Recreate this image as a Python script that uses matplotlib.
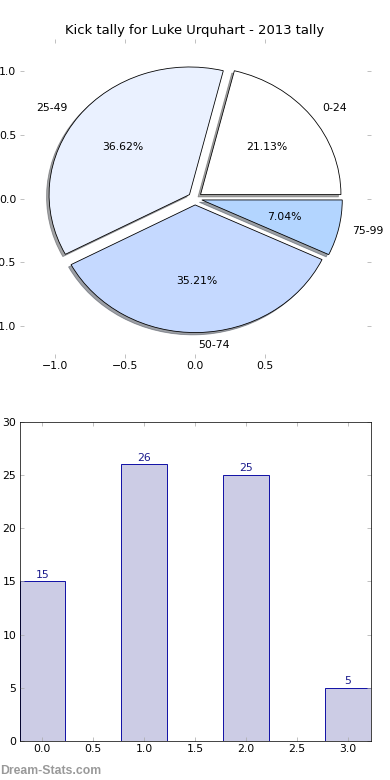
import matplotlib
matplotlib.use("Agg")
import matplotlib.pyplot as plt

labels = ['0-24', '25-49', '50-74', '75-99']
counts = [15, 26, 25, 5]
pie_colors = ['#ffffff', '#eaf1ff', '#c5d9ff', '#b3d5ff']
explode = [0.05, 0.05, 0.05, 0.05]
title = 'Kick tally for Luke Urquhart - 2013 tally'

fig = plt.figure(figsize=(6, 12), dpi=65)
fig.subplots_adjust(left=0.05, right=0.95, top=0.95, bottom=0.05, hspace=0.2)

# pie
ax1 = fig.add_subplot(211)
ax1.pie(counts, labels=labels, colors=pie_colors, explode=explode,
        autopct='%1.2f%%', shadow=True,
        wedgeprops=dict(edgecolor='black', linewidth=0.9),
        textprops=dict(fontsize=12))
ax1.set_aspect('auto')
ax1.set_frame_on(False)
ax1.set_xlim(-1.25, 1.25)
ax1.set_ylim(-1.25, 1.25)
ax1.set_xticks([-1.0, -0.5, 0.0, 0.5])
ax1.set_yticks([-1.0, -0.5, 0.0, 0.5, 1.0])
ax1.tick_params(direction='in', top=True, right=True, length=4,
                color='#aaaaaa', labelsize=12)
ax1.set_title(title, fontsize=14.5)

# bars
ax2 = fig.add_subplot(212)
xs = list(range(len(counts)))
ax2.bar(xs, counts, width=0.45, color='#ccccE5', edgecolor='#0000a0', linewidth=1)
for x, c in zip(xs, counts):
    ax2.text(x, c + 0.15, str(c), ha='center', va='bottom', color='#1a1a8c', fontsize=12)
ax2.set_xlim(-0.225, 3.225)
ax2.set_ylim(0, 30)
ax2.set_xticks([0, 0.5, 1, 1.5, 2, 2.5, 3])
ax2.set_xticklabels(['0.0', '0.5', '1.0', '1.5', '2.0', '2.5', '3.0'])
ax2.set_yticks([0, 5, 10, 15, 20, 25, 30])
ax2.tick_params(direction='in', top=True, right=True, length=4,
                color='#aaaaaa', labelsize=12)

fig.text(0.0, 0.004, 'Dream-Stats.com', color='#999999', fontsize=13.5,
         fontweight='bold', family='Liberation Sans', ha='left', va='bottom')

fig.savefig('out.png', dpi=65)
